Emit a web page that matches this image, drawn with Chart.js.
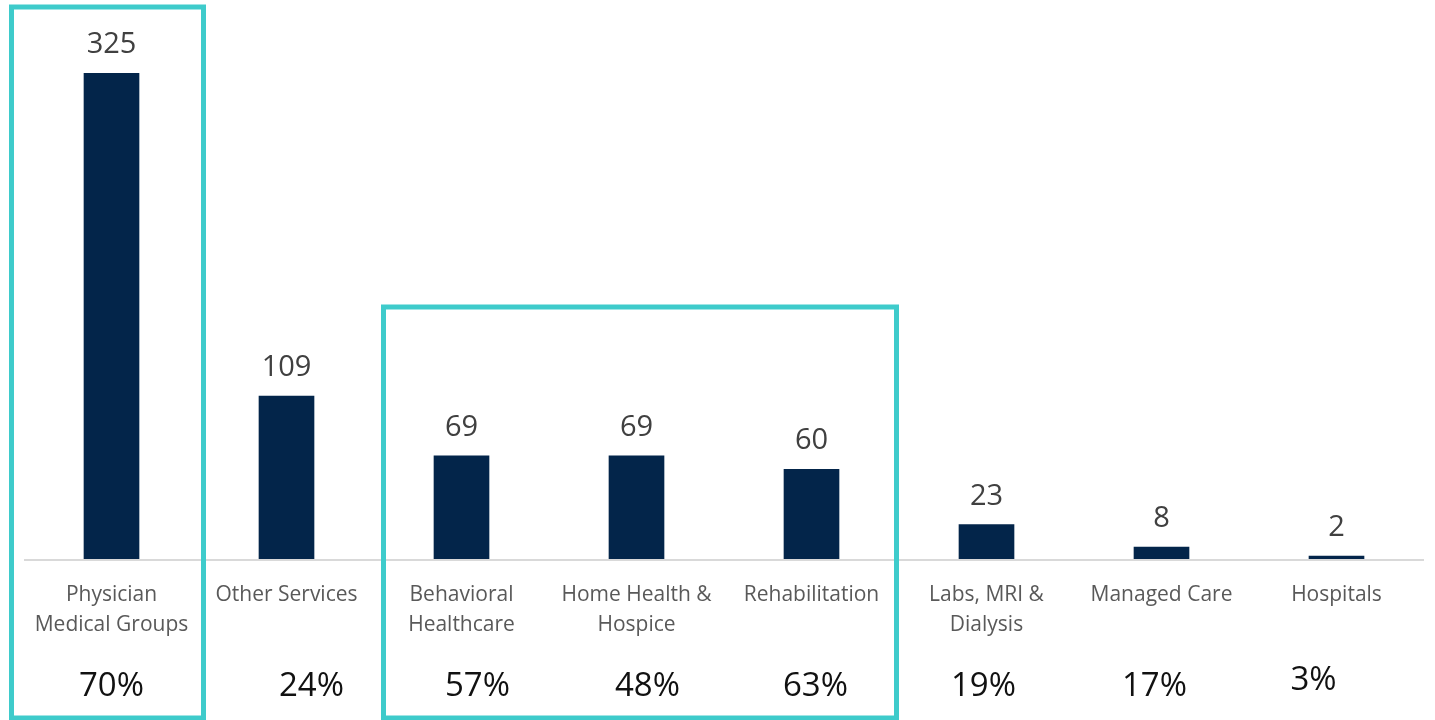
<!DOCTYPE html>
<html>
<head>
<meta charset="utf-8">
<script src="https://cdn.jsdelivr.net/npm/chart.js@4/dist/chart.umd.min.js"></script>
<style>
html,body{margin:0;padding:0;background:#fff;}
#wrap{width:1435px;height:720px;position:relative;}
</style>
</head>
<body>
<div id="wrap"><canvas id="c" width="1435" height="720"></canvas></div>
<script>
const categories = [
  ["Physician", "Medical Groups"],
  ["Other Services"],
  ["Behavioral", "Healthcare"],
  ["Home Health &", "Hospice"],
  ["Rehabilitation"],
  ["Labs, MRI &", "Dialysis"],
  ["Managed Care"],
  ["Hospitals"]
];
const counts = [325, 109, 69, 69, 60, 23, 8, 2];
const shares = ["70%", "24%", "57%", "48%", "63%", "19%", "17%", "3%"];
const highlightGroups = [[0, 0], [2, 4]];

// layout-only tweaks (style, not data)
const pctDx = [0, 25, 16, 11, 4, -3, -7, -23];
const pctDy = [0, 0, 0, 0, 0, 0, 0, -6];
const boxStyle = [
  {left: -100, right: 92, top: 7, bottom: 718},
  {left: -78, right: 85, top: 307, bottom: 718}
];

const FONT = "'Open Sans', 'Noto Sans', sans-serif";

const overlay = {
  id: 'overlay',
  afterDatasetsDraw(chart) {
    const ctx = chart.ctx;
    const x = chart.scales.x, y = chart.scales.y;
    const area = chart.chartArea;
    const y0 = y.getPixelForValue(0);
    ctx.save();
    // baseline
    ctx.strokeStyle = '#d9d9d9';
    ctx.lineWidth = 2;
    ctx.beginPath();
    ctx.moveTo(area.left, y0 + 1);
    ctx.lineTo(area.right, y0 + 1);
    ctx.stroke();

    categories.forEach((lines, i) => {
      const cx = x.getPixelForValue(i);
      // value labels
      ctx.fillStyle = '#404040';
      ctx.font = '29px ' + FONT;
      ctx.textAlign = 'center';
      ctx.textBaseline = 'alphabetic';
      ctx.fillText(String(counts[i]), cx, y.getPixelForValue(counts[i]) - 20);
      // category labels
      ctx.fillStyle = '#595959';
      ctx.font = '21px ' + FONT;
      ctx.textBaseline = 'middle';
      lines.forEach((t, k) => ctx.fillText(t, cx, y0 + 36 + k * 30));
      // share labels
      ctx.fillStyle = '#111111';
      ctx.font = '33px ' + FONT;
      ctx.fillText(shares[i], cx + pctDx[i], y0 + 128 + pctDy[i]);
    });

    // highlight boxes
    ctx.strokeStyle = '#3ecbcb';
    ctx.lineWidth = 5;
    highlightGroups.forEach((g, j) => {
      const s = boxStyle[j];
      const l = x.getPixelForValue(g[0]) + s.left;
      const r = x.getPixelForValue(g[1]) + s.right;
      ctx.strokeRect(l, s.top, r - l, s.bottom - s.top);
    });
    ctx.restore();
  }
};

new Chart(document.getElementById('c'), {
  type: 'bar',
  data: {
    labels: categories,
    datasets: [{
      data: counts,
      backgroundColor: '#03254a',
      barThickness: 55,
      borderWidth: 0
    }]
  },
  options: {
    responsive: false,
    animation: false,
    layout: {padding: {left: 24, right: 11, top: 0, bottom: 161}},
    plugins: {legend: {display: false}, tooltip: {enabled: false}},
    scales: {
      x: {display: false},
      y: {display: false, min: 0, max: 374}
    }
  },
  plugins: [overlay]
});
</script>
</body>
</html>
